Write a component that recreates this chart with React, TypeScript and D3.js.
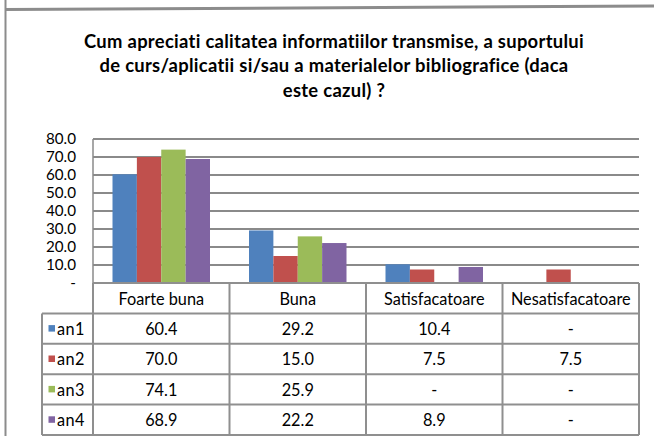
import React from "react";
import * as d3 from "d3";

const categories = ["Foarte buna", "Buna", "Satisfacatoare", "Nesatisfacatoare"];
const seriesNames = ["an1", "an2", "an3", "an4"];
const an1 = [60.4, 29.2, 10.4, 0];
const an2 = [70.0, 15.0, 7.5, 7.5];
const an3 = [74.1, 25.9, 0, 0];
const an4 = [68.9, 22.2, 8.9, 0];
const seriesValues = [an1, an2, an3, an4];
const colors = ["#4F81BD", "#C0504D", "#9BBB59", "#8064A2"];
const yTicks = [0, 10, 20, 30, 40, 50, 60, 70, 80];
const titleLines = [
  "Cum apreciati calitatea informatiilor transmise, a suportului",
  "de curs/aplicatii si/sau a materialelor bibliografice (daca",
  "este cazul) ?",
];

const W = 654;
const H = 436;
const FONT = "Lato, 'Noto Sans', sans-serif";

export default function App() {
  const plotLeft = 93;
  const plotRight = 639;
  const plotTop = 139;
  const plotBottom = 283;
  const legendLeft = 42;
  const rowH = 30.4;

  const x = d3.scaleBand<string>().domain(categories).range([plotLeft, plotRight]).paddingInner(0).paddingOuter(0);
  const y = d3.scaleLinear().domain([0, 80]).range([plotBottom, plotTop]);
  const bw = x.bandwidth();
  const barW = bw / 5.6;
  const groupOffset = barW * 0.8;
  const inner = d3.scaleBand<string>().domain(seriesNames).range([0, barW * 4]).padding(0);

  const fmt = (v: number) => (v === 0 ? "-" : d3.format(".1f")(v));
  const gridColor = "#8a8a8a";
  const tableColor = "#8f8f8f";

  const headerTop = plotBottom;
  const rowsTop = headerTop + rowH;
  const tableBottom = rowsTop + rowH * seriesNames.length;
  const tableFont = 16.3;

  return (
    <svg width={W} height={H} style={{ position: "absolute", left: 0, top: 0, background: "#fff" }} fontFamily={FONT}>
      <rect x={0} y={0} width={W} height={H} fill="#fff" />
      {/* frame */}
      <line x1={5} y1={9.5} x2={W} y2={6} stroke="#8c8c8c" strokeWidth={3} />
      <line x1={5.5} y1={0} x2={5.5} y2={H} stroke="#8c8c8c" strokeWidth={2} />

      {/* title */}
      {titleLines.map((t, i) => (
        <text key={i} x={334} y={48 + i * 24.4} textAnchor="middle" fontWeight="bold" fontSize={18.4} letterSpacing={0.3} fill="#000">
          {t}
        </text>
      ))}

      {/* gridlines */}
      {yTicks.filter((t) => t > 0).map((t) => (
        <line key={t} x1={plotLeft} x2={plotRight} y1={y(t)} y2={y(t)} stroke={gridColor} strokeWidth={2} />
      ))}
      {/* y axis line */}
      <line x1={plotLeft} x2={plotLeft} y1={plotTop} y2={plotBottom} stroke={gridColor} strokeWidth={1.5} />

      {/* y tick labels */}
      {yTicks.map((t) => (
        <text key={t} x={76} y={y(t) + 5} textAnchor="end" fontSize={15.2} fill="#000">
          {fmt(t)}
        </text>
      ))}

      {/* bars */}
      {seriesValues.map((vals, si) =>
        vals.map((v, ci) =>
          v > 0 ? (
            <rect
              key={`${si}-${ci}`}
              x={(x(categories[ci]) as number) + groupOffset + (inner(seriesNames[si]) as number)}
              y={y(v)}
              width={inner.bandwidth()}
              height={plotBottom - y(v)}
              fill={colors[si]}
            />
          ) : null
        )
      )}

      {/* table */}
      <line x1={plotLeft} x2={plotRight} y1={headerTop} y2={headerTop} stroke={tableColor} strokeWidth={2} />
      {seriesNames.map((s, i) => (
        <line key={s} x1={legendLeft} x2={plotRight} y1={rowsTop + i * rowH} y2={rowsTop + i * rowH} stroke={tableColor} strokeWidth={2} />
      ))}
      <line x1={legendLeft} x2={plotRight} y1={tableBottom} y2={tableBottom} stroke={tableColor} strokeWidth={2} />
      <line x1={legendLeft} x2={legendLeft} y1={rowsTop} y2={tableBottom} stroke={tableColor} strokeWidth={2} />
      {categories.map((c) => (
        <line key={c} x1={x(c) as number} x2={x(c) as number} y1={headerTop} y2={tableBottom} stroke={tableColor} strokeWidth={2} />
      ))}
      <line x1={plotRight} x2={plotRight} y1={headerTop} y2={tableBottom} stroke={tableColor} strokeWidth={2} />

      {categories.map((c) => (
        <text key={c} x={(x(c) as number) + bw / 2} y={headerTop + 21.5} textAnchor="middle" fontSize={tableFont} fill="#000">
          {c}
        </text>
      ))}
      {seriesNames.map((s, si) => (
        <g key={s}>
          <rect x={48.5} y={rowsTop + si * rowH + rowH / 2 - 3.5} width={6.5} height={6.5} fill={colors[si]} />
          <text x={57} y={rowsTop + si * rowH + 21.5} fontSize={tableFont} letterSpacing={0.4} fill="#000">
            {s}
          </text>
          {categories.map((c, ci) => (
            <text key={c} x={(x(c) as number) + bw / 2} y={rowsTop + si * rowH + 21.5} textAnchor="middle" fontSize={tableFont} fill="#000">
              {fmt(seriesValues[si][ci])}
            </text>
          ))}
        </g>
      ))}
    </svg>
  );
}
